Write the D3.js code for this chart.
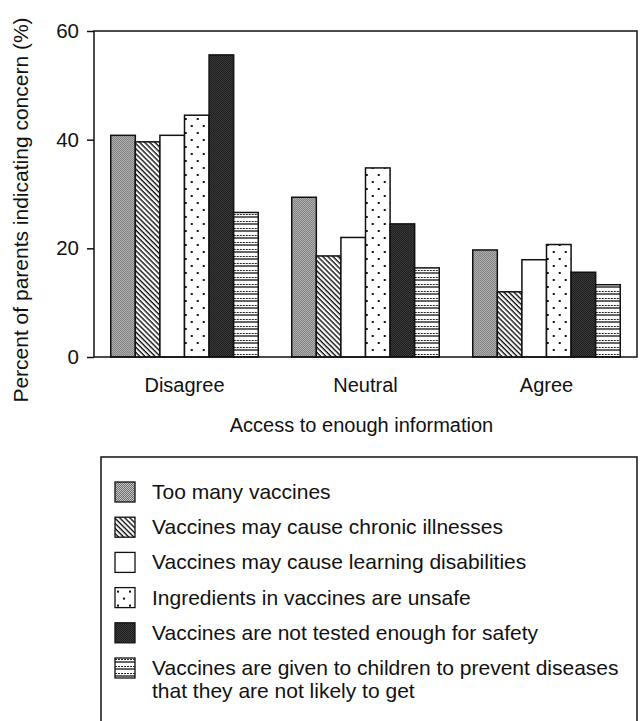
<!DOCTYPE html>
<html lang="en">
<head>
    <meta charset="UTF-8">
    <title>Parents' vaccine concerns by access to information</title>
    <script src="https://cdnjs.cloudflare.com/ajax/libs/d3/7.8.5/d3.min.js"></script>
    <style>
        body {
            margin: 0;
            background-color: white;
        }
        svg text {
            font-family: Arial, "Liberation Sans", sans-serif;
            fill: #111;
        }
    </style>
</head>
<body>
    <svg id="chart"></svg>

    <script>
        // Data
        const categories = ["Disagree", "Neutral", "Agree"];
        const seriesNames = [
            "Too many vaccines",
            "Vaccines may cause chronic illnesses",
            "Vaccines may cause learning disabilities",
            "Ingredients in vaccines are unsafe",
            "Vaccines are not tested enough for safety",
            "Vaccines are given to children to prevent diseases|that they are not likely to get"
        ];
        const tooManyVaccines   = [40.8, 29.4, 19.7];
        const chronicIllnesses  = [39.6, 18.6, 12.0];
        const learningDisab     = [40.8, 22.0, 17.9];
        const unsafeIngredients = [44.5, 34.8, 20.7];
        const notTested         = [55.6, 24.5, 15.6];
        const unlikelyDiseases  = [26.6, 16.4, 13.3];
        const yTicks = [0, 20, 40, 60];

        const seriesValues = [tooManyVaccines, chronicIllnesses, learningDisab,
                              unsafeIngredients, notTested, unlikelyDiseases];
        const patternIds = ["p-grey", "p-hatch", "p-white", "p-dots", "p-dark", "p-lines"];

        // Layout
        const width = 641, height = 721;
        const margin = {top: 31, left: 94, right: 4};
        const plotW = width - margin.left - margin.right;
        const plotH = 326;

        const svg = d3.select("#chart")
            .attr("width", width)
            .attr("height", height);

        // Fill patterns
        const defs = svg.append("defs");

        const grey = defs.append("pattern").attr("id", "p-grey")
            .attr("patternUnits", "userSpaceOnUse").attr("width", 2).attr("height", 2);
        grey.append("rect").attr("width", 2).attr("height", 2).attr("fill", "#c4c4c4");
        grey.append("rect").attr("width", 1).attr("height", 1).attr("fill", "#6e6e6e");
        grey.append("rect").attr("x", 1).attr("y", 1).attr("width", 1).attr("height", 1).attr("fill", "#6e6e6e");

        const hatch = defs.append("pattern").attr("id", "p-hatch")
            .attr("patternUnits", "userSpaceOnUse").attr("width", 8).attr("height", 3.6)
            .attr("patternTransform", "rotate(45)");
        hatch.append("rect").attr("width", 8).attr("height", 3.6).attr("fill", "white");
        hatch.append("rect").attr("width", 8).attr("height", 1.4).attr("fill", "#111");

        const white = defs.append("pattern").attr("id", "p-white")
            .attr("patternUnits", "userSpaceOnUse").attr("width", 4).attr("height", 4);
        white.append("rect").attr("width", 4).attr("height", 4).attr("fill", "white");

        const dots = defs.append("pattern").attr("id", "p-dots")
            .attr("patternUnits", "userSpaceOnUse").attr("width", 12).attr("height", 14);
        dots.append("rect").attr("width", 12).attr("height", 14).attr("fill", "white");
        dots.append("rect").attr("x", 2).attr("y", 3).attr("width", 2).attr("height", 2).attr("fill", "#111");
        dots.append("rect").attr("x", 8).attr("y", 10).attr("width", 2).attr("height", 2).attr("fill", "#111");

        const dark = defs.append("pattern").attr("id", "p-dark")
            .attr("patternUnits", "userSpaceOnUse").attr("width", 2).attr("height", 2);
        dark.append("rect").attr("width", 2).attr("height", 2).attr("fill", "#444");
        dark.append("rect").attr("width", 1).attr("height", 1).attr("fill", "#141414");
        dark.append("rect").attr("x", 1).attr("y", 1).attr("width", 1).attr("height", 1).attr("fill", "#141414");

        const lines = defs.append("pattern").attr("id", "p-lines")
            .attr("patternUnits", "userSpaceOnUse").attr("width", 6).attr("height", 7);
        lines.append("rect").attr("width", 6).attr("height", 7).attr("fill", "white");
        lines.append("line").attr("x1", 0).attr("x2", 6).attr("y1", 1.5).attr("y2", 1.5)
            .attr("stroke", "#222").attr("stroke-width", 1).attr("stroke-dasharray", "2,1");
        lines.append("line").attr("x1", 0).attr("x2", 6).attr("y1", 4).attr("y2", 4)
            .attr("stroke", "#111").attr("stroke-width", 1.3);

        // Scales
        const x0 = d3.scaleBand()
            .domain(categories)
            .range([0, plotW])
            .paddingInner(0.185)
            .paddingOuter(0.0925);

        const x1 = d3.scaleBand()
            .domain(d3.range(seriesValues.length))
            .range([0, x0.bandwidth()]);

        const y = d3.scaleLinear()
            .domain([0, 60])
            .range([plotH, 0]);

        const g = svg.append("g")
            .attr("transform", `translate(${margin.left},${margin.top})`);

        // Bars
        const groups = g.selectAll(".group")
            .data(categories)
            .enter().append("g")
            .attr("class", "group")
            .attr("transform", d => `translate(${x0(d)},0)`);

        groups.selectAll("rect")
            .data((c, ci) => seriesValues.map((vals, si) => ({si, v: vals[ci]})))
            .enter().append("rect")
            .attr("x", d => x1(d.si))
            .attr("y", d => y(d.v))
            .attr("width", x1.bandwidth())
            .attr("height", d => plotH - y(d.v))
            .attr("fill", d => `url(#${patternIds[d.si]})`)
            .attr("stroke", "#111")
            .attr("stroke-width", 1.5);

        // Frame
        g.append("rect")
            .attr("width", plotW)
            .attr("height", plotH)
            .attr("fill", "none")
            .attr("stroke", "#111")
            .attr("stroke-width", 1.5);

        // Y axis
        const yAxis = g.append("g")
            .call(d3.axisLeft(y).tickValues(yTicks).tickSize(7).tickPadding(8));
        yAxis.select(".domain").remove();
        yAxis.selectAll(".tick line").attr("stroke", "#111").attr("stroke-width", 1.5);
        yAxis.selectAll(".tick text")
            .attr("font-size", 20.5)
            .attr("font-family", "Arial, 'Liberation Sans', sans-serif")
            .attr("fill", "#111");

        // X axis labels
        const xAxis = g.append("g")
            .attr("transform", `translate(0,${plotH})`)
            .call(d3.axisBottom(x0).tickSize(0).tickPadding(21));
        xAxis.select(".domain").remove();
        xAxis.selectAll(".tick text")
            .attr("font-size", 20)
            .attr("font-family", "Arial, 'Liberation Sans', sans-serif")
            .attr("fill", "#111");

        // Axis titles
        svg.append("text")
            .attr("x", margin.left + plotW / 2 - 4)
            .attr("y", 432)
            .attr("text-anchor", "middle")
            .attr("font-size", 20)
            .text("Access to enough information");

        svg.append("text")
            .attr("transform", "translate(28,210) rotate(-90)")
            .attr("text-anchor", "middle")
            .attr("font-size", 21)
            .text("Percent of parents indicating concern (%)");

        // Legend
        const legend = svg.append("g");
        legend.append("rect")
            .attr("x", 101)
            .attr("y", 457)
            .attr("width", 536)
            .attr("height", 280)
            .attr("fill", "none")
            .attr("stroke", "#111")
            .attr("stroke-width", 1.5);

        const rowStep = 35.2;
        const items = legend.selectAll(".item")
            .data(seriesNames)
            .enter().append("g")
            .attr("class", "item")
            .attr("transform", (d, i) => `translate(115,${482 + i * rowStep})`);

        items.append("rect")
            .attr("width", 20)
            .attr("height", 20)
            .attr("fill", (d, i) => `url(#${patternIds[i]})`)
            .attr("stroke", "#111")
            .attr("stroke-width", 1.3);

        items.each(function(d) {
            const parts = d.split("|");
            const t = d3.select(this).append("text")
                .attr("x", 37)
                .attr("y", 17)
                .attr("font-size", 21);
            parts.forEach((p, k) => {
                t.append("tspan")
                    .attr("x", 37)
                    .attr("dy", k === 0 ? 0 : 23)
                    .text(p);
            });
        });
    </script>
</body>
</html>
